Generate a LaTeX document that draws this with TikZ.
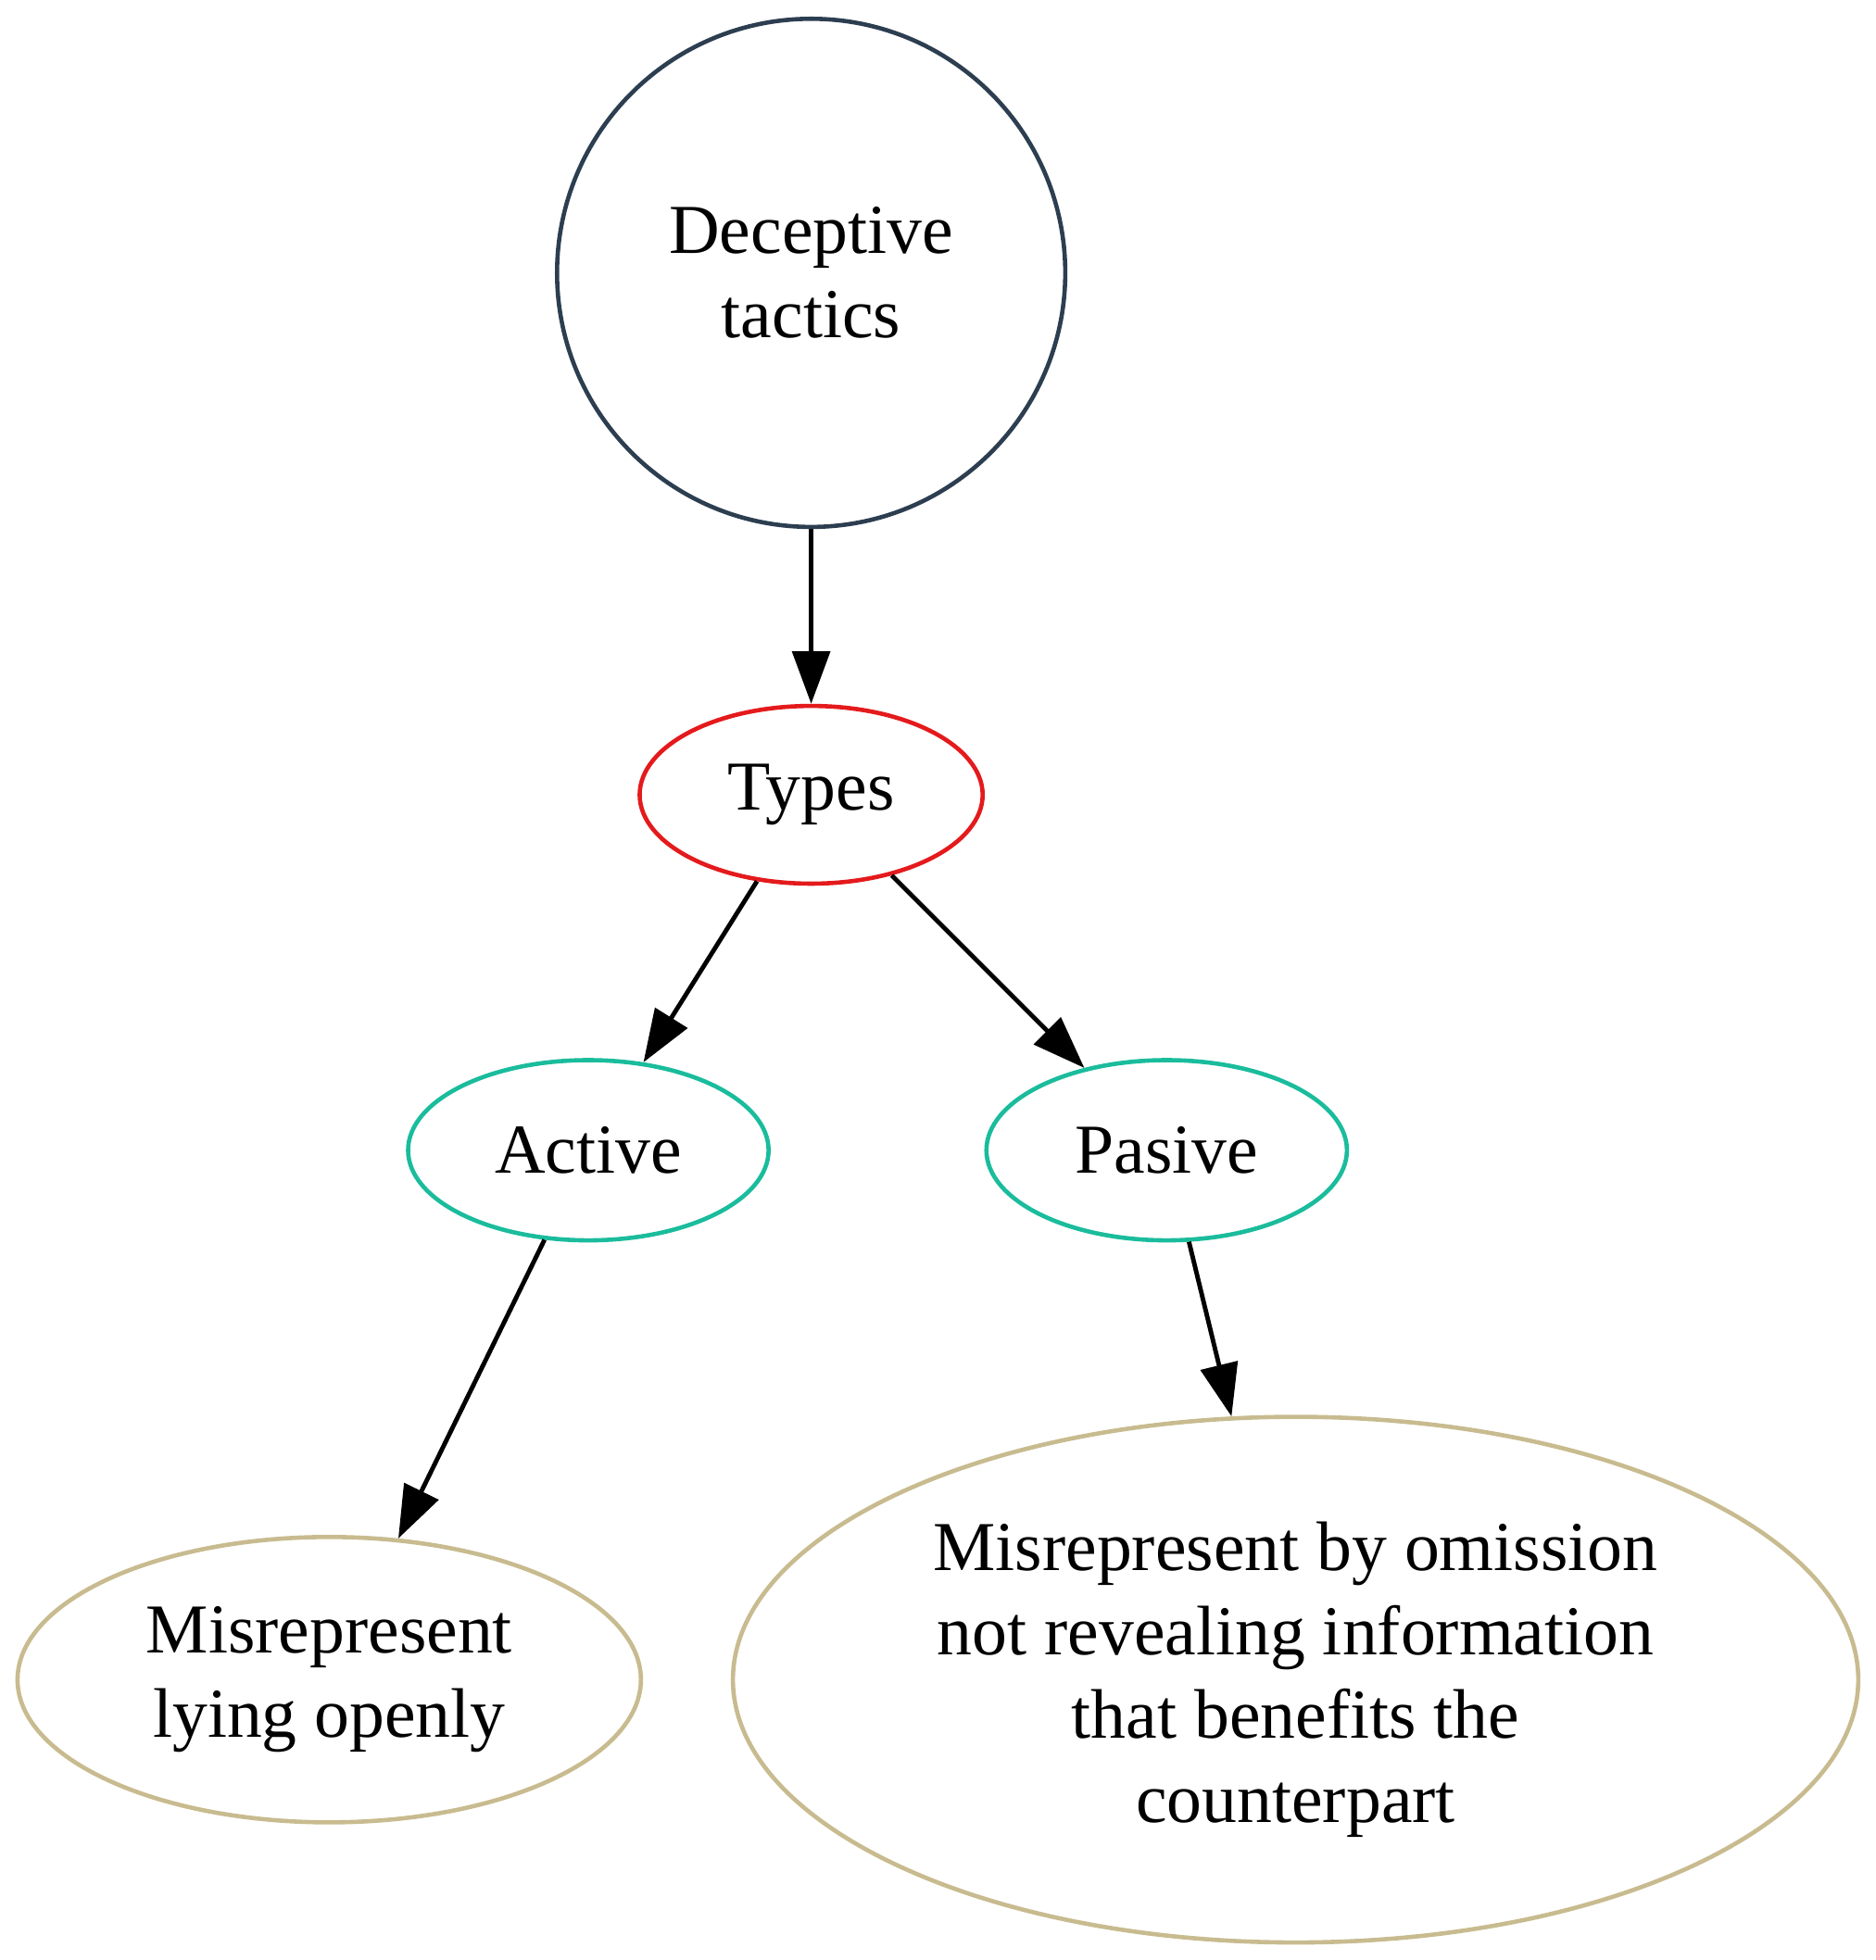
\documentclass[tikz,border=0pt]{standalone}
\usepackage{fontspec}
\setmainfont{Liberation Serif}
\usetikzlibrary{shapes.geometric,arrows.meta}
\definecolor{navy}{HTML}{2C3E50}
\definecolor{redc}{HTML}{E41A1C}
\definecolor{teal}{HTML}{1ABC9C}
\definecolor{tan}{HTML}{C8BB8F}
\begin{document}
\begin{tikzpicture}[x=0.25pt,y=-0.25pt,
  base/.style={line width=0.85pt,inner sep=0pt,align=center,
    font=\fontsize{14}{16.8}\selectfont},
  circ/.style={base,circle,draw=navy,minimum size=101.5pt},
  ell/.style={base,ellipse,minimum width=#1},
  conn/.style={line width=0.9pt,-{Triangle[length=10.5pt,width=7.5pt]}}]
\useasboundingbox (0,0) rectangle (1498,1566);
\node[circ] (dec) at (648,218) {Deceptive\\tactics};
\node[ell=68.5pt,draw=redc,minimum height=35.5pt] (types) at (648,635) {Types};
\node[ell=72pt,draw=teal,minimum height=36pt] (act) at (470,919) {Active};
\node[ell=72pt,draw=teal,minimum height=36pt] (pas) at (932,919) {Pasive};
\node[ell=124.5pt,draw=tan,minimum height=57pt] (lie) at (263,1342) {Misrepresent\\lying openly};
\node[ell=224.75pt,draw=tan,minimum height=105pt] (omi) at (1035,1342) {Misrepresent by omission\\not revealing information\\that benefits the\\counterpart};
\draw[conn] (dec) -- (types);
\draw[conn] (types) -- (act);
\draw[conn] (types) -- (pas);
\draw[conn] (act) -- (lie);
\draw[conn] (pas) -- (omi);
\end{tikzpicture}
\end{document}
